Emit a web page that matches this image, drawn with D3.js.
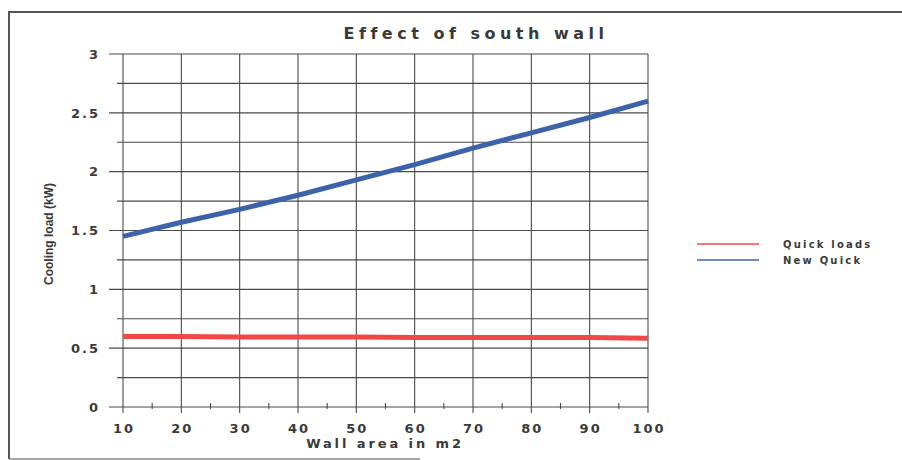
<!DOCTYPE html>
<html><head><meta charset="utf-8">
<script src="https://cdn.jsdelivr.net/npm/d3@7"></script>
<style>
body{margin:0;background:#fff;}
svg{display:block;}
text{fill:#3a3a3a;}
</style></head>
<body>
<svg id="chart" width="902" height="460"></svg>
<script>
const title = "Effect of south wall";
const xLabel = "Wall area in m2";
const yLabel = "Cooling load (kW)";
const wallArea = [10, 20, 30, 40, 50, 60, 70, 80, 90, 100];
const quickLoads = [0.60, 0.60, 0.595, 0.595, 0.595, 0.59, 0.59, 0.59, 0.59, 0.585];
const newQuick = [1.45, 1.57, 1.68, 1.80, 1.93, 2.06, 2.20, 2.33, 2.46, 2.60];
const seriesNames = ["Quick loads", "New Quick"];
const seriesColors = ["#f04848", "#3c62ab"];
const yTicks = [0, 0.5, 1, 1.5, 2, 2.5, 3];
const yMinorTicks = [0.25, 0.75, 1.25, 1.75, 2.25, 2.75];
const xTicks = [10, 20, 30, 40, 50, 60, 70, 80, 90, 100];
const xMinorTicks = [15, 25, 35, 45, 55, 65, 75, 85, 95];

const svg = d3.select("#chart");
const L = 123, R = 648, T = 54, B = 407;
const x = d3.scaleLinear().domain([10, 100]).range([L, R]);
const y = d3.scaleLinear().domain([0, 3]).range([B, T]);
const gridCol = "#4a4a4a";
const boldFont = "'DejaVu Sans', 'Liberation Sans', Arial, sans-serif";

// frame
svg.append("line").attr("x1", 9).attr("x2", 902).attr("y1", 12).attr("y2", 12).attr("stroke", "#555").attr("stroke-width", 2);
svg.append("line").attr("x1", 9).attr("x2", 9).attr("y1", 11).attr("y2", 459).attr("stroke", "#555").attr("stroke-width", 2);
svg.append("line").attr("x1", 9).attr("x2", 420).attr("y1", 459).attr("y2", 459).attr("stroke", "#888").attr("stroke-width", 1.5);

// horizontal grid: major lines extend left as ticks
svg.append("g").selectAll("line").data(yTicks).join("line")
  .attr("x1", 109).attr("x2", R).attr("y1", d => y(d)).attr("y2", d => y(d))
  .attr("stroke", gridCol).attr("stroke-width", 1.1);
svg.append("g").selectAll("line").data(yMinorTicks).join("line")
  .attr("x1", 117).attr("x2", R).attr("y1", d => y(d)).attr("y2", d => y(d))
  .attr("stroke", gridCol).attr("stroke-width", 1.1);
// vertical grid
svg.append("g").selectAll("line").data(xTicks).join("line")
  .attr("x1", d => x(d)).attr("x2", d => x(d)).attr("y1", T).attr("y2", B + 6)
  .attr("stroke", gridCol).attr("stroke-width", 1.1);
svg.append("g").selectAll("line").data(xMinorTicks).join("line")
  .attr("x1", d => x(d)).attr("x2", d => x(d)).attr("y1", B - 4).attr("y2", B + 2)
  .attr("stroke", gridCol).attr("stroke-width", 1.1);

// y tick labels
svg.append("g").selectAll("text").data(yTicks).join("text")
  .attr("x", 100).attr("y", d => y(d)).attr("dy", "0.36em")
  .attr("text-anchor", "end")
  .style("font-family", boldFont).style("font-weight", "bold").style("font-size", "13px")
  .style("letter-spacing", "2px")
  .text(d => d);
// x tick labels
svg.append("g").selectAll("text").data(xTicks).join("text")
  .attr("x", d => x(d) + 1).attr("y", 433)
  .attr("text-anchor", "middle")
  .style("font-family", boldFont).style("font-weight", "bold").style("font-size", "13px")
  .style("letter-spacing", "2px")
  .text(d => d);

// titles
svg.append("text").attr("x", 476).attr("y", 39).attr("text-anchor", "middle")
  .style("font-family", boldFont).style("font-weight", "bold").style("font-size", "16px")
  .style("letter-spacing", "4.5px").text(title);
svg.append("text").attr("x", 385).attr("y", 448).attr("text-anchor", "middle")
  .style("font-family", boldFont).style("font-weight", "bold").style("font-size", "13px")
  .style("letter-spacing", "2.9px").text(xLabel);
svg.append("text").attr("transform", "translate(53,234) rotate(-90)").attr("text-anchor", "middle")
  .style("font", "bold 12px 'Liberation Sans Narrow', 'Arial Narrow', sans-serif")
  .style("font-stretch", "condensed")
  .text(yLabel);

// lines
const line = d3.line().x((d, i) => x(wallArea[i])).y(d => y(d));
[quickLoads, newQuick].forEach((s, k) => {
  svg.append("path").datum(s).attr("d", line)
    .attr("fill", "none").attr("stroke", seriesColors[k]).attr("stroke-width", 5)
    .attr("stroke-linejoin", "round");
});

// legend
const lg = svg.append("g");
seriesNames.forEach((n, k) => {
  const yy = 244 + k * 16;
  lg.append("line").attr("x1", 697).attr("x2", 759).attr("y1", yy).attr("y2", yy)
    .attr("stroke", seriesColors[k]).attr("stroke-width", 1.5);
  lg.append("text").attr("x", 783).attr("y", yy).attr("dy", "0.36em")
    .style("font-family", boldFont).style("font-weight", "bold").style("font-size", "10px")
    .style("letter-spacing", "2.2px").text(n);
});
</script>
</body></html>
